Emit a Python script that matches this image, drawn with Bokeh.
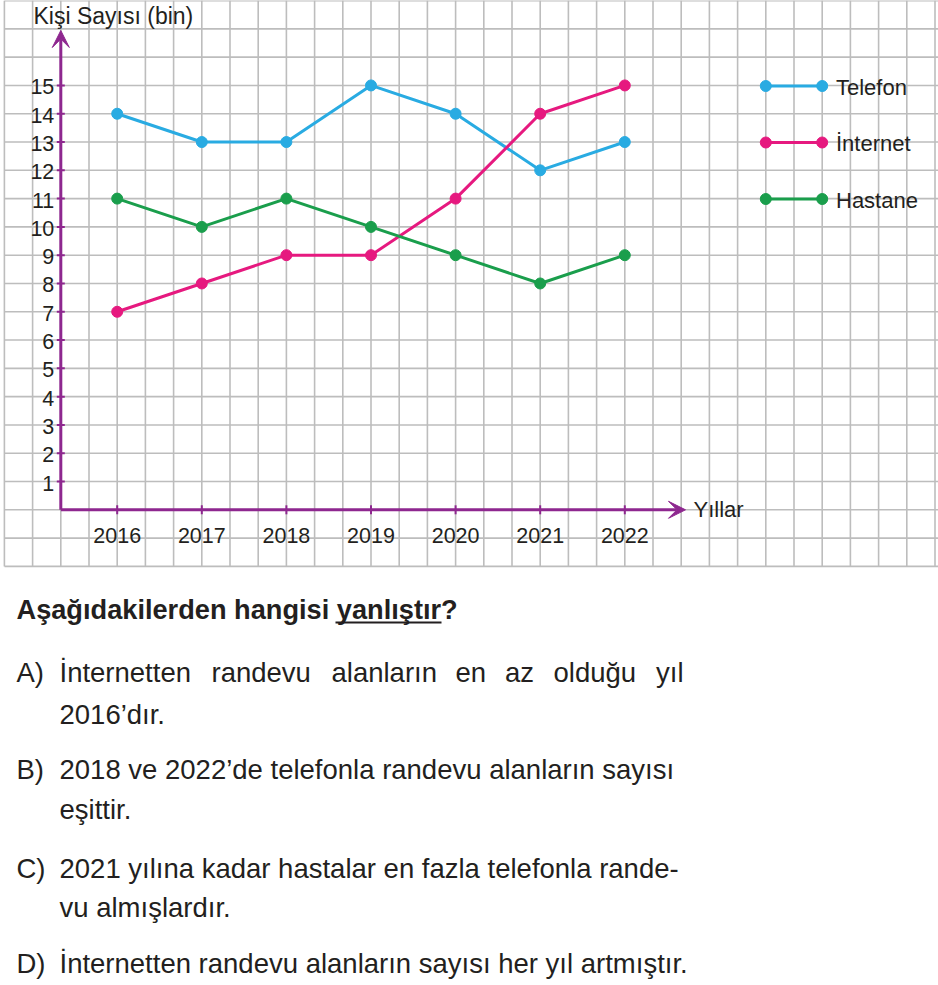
from bokeh.plotting import figure
from bokeh.models import Arrow, VeeHead, Range1d
from bokeh.core.properties import value
from bokeh.embed import file_html
from bokeh.resources import INLINE

# ---------------- data ----------------
years = [2016, 2017, 2018, 2019, 2020, 2021, 2022]
telefon = [14, 13, 13, 15, 14, 12, 13]
internet = [7, 8, 9, 9, 11, 14, 15]
hastane = [11, 10, 11, 10, 9, 8, 9]
series_names = ["Telefon", "İnternet", "Hastane"]
y_ticks = list(range(1, 16))
x_tick_labels = [str(y) for y in years]
y_title = "Kişi Sayısı (bin)"
x_title = "Yıllar"
question = "Aşağıdakilerden hangisi yanlıştır?"
option_letters = ["A)", "B)", "C)", "D)"]
option_a_words = ["İnternetten", "randevu", "alanların", "en", "az", "olduğu", "yıl"]
option_lines = [
    "2016’dır.",
    "2018 ve 2022’de telefonla randevu alanların sayısı",
    "eşittir.",
    "2021 yılına kadar hastalar en fazla telefonla rande-",
    "vu almışlardır.",
    "İnternetten randevu alanların sayısı her yıl artmıştır.",
]

# ---------------- layout (reference pixel geometry) ----------------
W, H = 938, 985
X2016_PX, PX_PER_YEAR = 116.7, 84.6
Y0_PX, PX_PER_UNIT = 509.3, 28.29


def dx(px):
    return 2016 + (px - X2016_PX) / PX_PER_YEAR


def dy(py):
    return (Y0_PX - py) / PX_PER_UNIT


def wpx(px):
    return px / PX_PER_YEAR


def hpx(px):
    return px / PX_PER_UNIT


FONT = value("Liberation Sans")
TXT = "#231f20"
AXIS = "#8e278f"
GRID = "#bdbdbd"
colors = ["#29abe2", "#e6197f", "#1a9e4c"]

p = figure(width=W, height=H, output_backend="svg", toolbar_location=None,
           x_range=Range1d(dx(0), dx(W)), y_range=Range1d(dy(H), dy(0)),
           x_axis_location=None, y_axis_location=None, min_border=0)
p.outline_line_color = None
p.background_fill_color = "white"
p.border_fill_color = "white"
p.grid.visible = False

# grid paper
cell_x = 1 / 3
gx = [2016 + k * cell_x for k in range(-4, 30)]
p.segment(x0=gx, y0=[-2] * len(gx), x1=gx, y1=[dy(0)] * len(gx),
          line_color=GRID, line_width=1.6)
gy = list(range(-2, 19))
p.segment(x0=[dx(4)] * len(gy), y0=gy, x1=[dx(938)] * len(gy), y1=gy,
          line_color=GRID, line_width=1.6)

# axes
ax_x = 2016 - 2 * cell_x
p.add_layout(Arrow(x_start=ax_x, y_start=0, x_end=ax_x, y_end=dy(30),
                   line_color=AXIS, line_width=3,
                   end=VeeHead(size=17, fill_color=AXIS, line_color=AXIS)))
p.add_layout(Arrow(x_start=ax_x, y_start=0, x_end=dx(685), y_end=0,
                   line_color=AXIS, line_width=3,
                   end=VeeHead(size=17, fill_color=AXIS, line_color=AXIS)))
p.segment(x0=[ax_x - wpx(4)] * len(y_ticks), y0=y_ticks,
          x1=[ax_x + wpx(4)] * len(y_ticks), y1=y_ticks,
          line_color=AXIS, line_width=2)
p.segment(x0=years, y0=[-hpx(4.5)] * len(years), x1=years, y1=[hpx(4.5)] * len(years),
          line_color=AXIS, line_width=2)

MID = dict(text_font=FONT, text_baseline="middle", text_color=TXT)

# tick labels and titles
p.text(x=[ax_x - wpx(6.5)] * len(y_ticks), y=[t - hpx(1.5) for t in y_ticks],
       text=[str(t) for t in y_ticks], text_font_size="21.5px", text_align="right", **MID)
p.text(x=years, y=[dy(534.5)] * len(years), text=x_tick_labels,
       text_font_size="21.5px", text_align="center", **MID)
p.text(x=[dx(33)], y=[dy(15)], text=[y_title], text_font_size="23px",
       text_align="left", **MID)
p.text(x=[dx(693)], y=[dy(508.5)], text=[x_title], text_font_size="22px",
       text_align="left", **MID)

# series
for vals, c in zip([telefon, internet, hastane], colors):
    p.line(years, vals, line_color=c, line_width=3, line_join="round")
    p.scatter(years, vals, size=11, fill_color=c, line_color=c)

# legend (drawn like the reference)
leg_x0, leg_x1, leg_tx = 2016 + 23 * cell_x, 2016 + 25 * cell_x, dx(835.5)
leg_rows = [dy(85.5), dy(142), dy(198.5)]
for name, c, ly in zip(series_names, colors, leg_rows):
    p.line([leg_x0, leg_x1], [ly, ly], line_color=c, line_width=3)
    p.scatter([leg_x0, leg_x1], [ly, ly], size=11, fill_color=c, line_color=c)
p.text(x=[leg_tx] * 3, y=[r - hpx(1) for r in leg_rows], text=series_names,
       text_font_size="22px", text_align="left", **MID)

# question
p.text(x=[dx(16)], y=[dy(608.5)], text=[question], text_font_size="27.2px",
       text_font_style="bold", text_align="left", **MID)
p.segment(x0=[dx(335)], y0=[dy(622)], x1=[dx(441)], y1=[dy(622)],
          line_color=TXT, line_width=2)

# options
OPT = "27.5px"
p.text(x=[dx(16)] * 4, y=[dy(672), dy(769), dy(868), dy(963)], text=option_letters,
       text_font_size=OPT, text_align="left", **MID)
a_word_px = [59, 211, 331, 455, 504.5, 553, 655.5]
p.text(x=[dx(v) for v in a_word_px], y=[dy(672)] * len(option_a_words), text=option_a_words,
       text_font_size=OPT, text_align="left", **MID)
line_y = [dy(714), dy(769), dy(809), dy(868), dy(907), dy(963)]
p.text(x=[dx(59)] * len(option_lines), y=line_y, text=option_lines,
       text_font_size=OPT, text_align="left", **MID)

open("out.html", "w").write(file_html(p, INLINE))
